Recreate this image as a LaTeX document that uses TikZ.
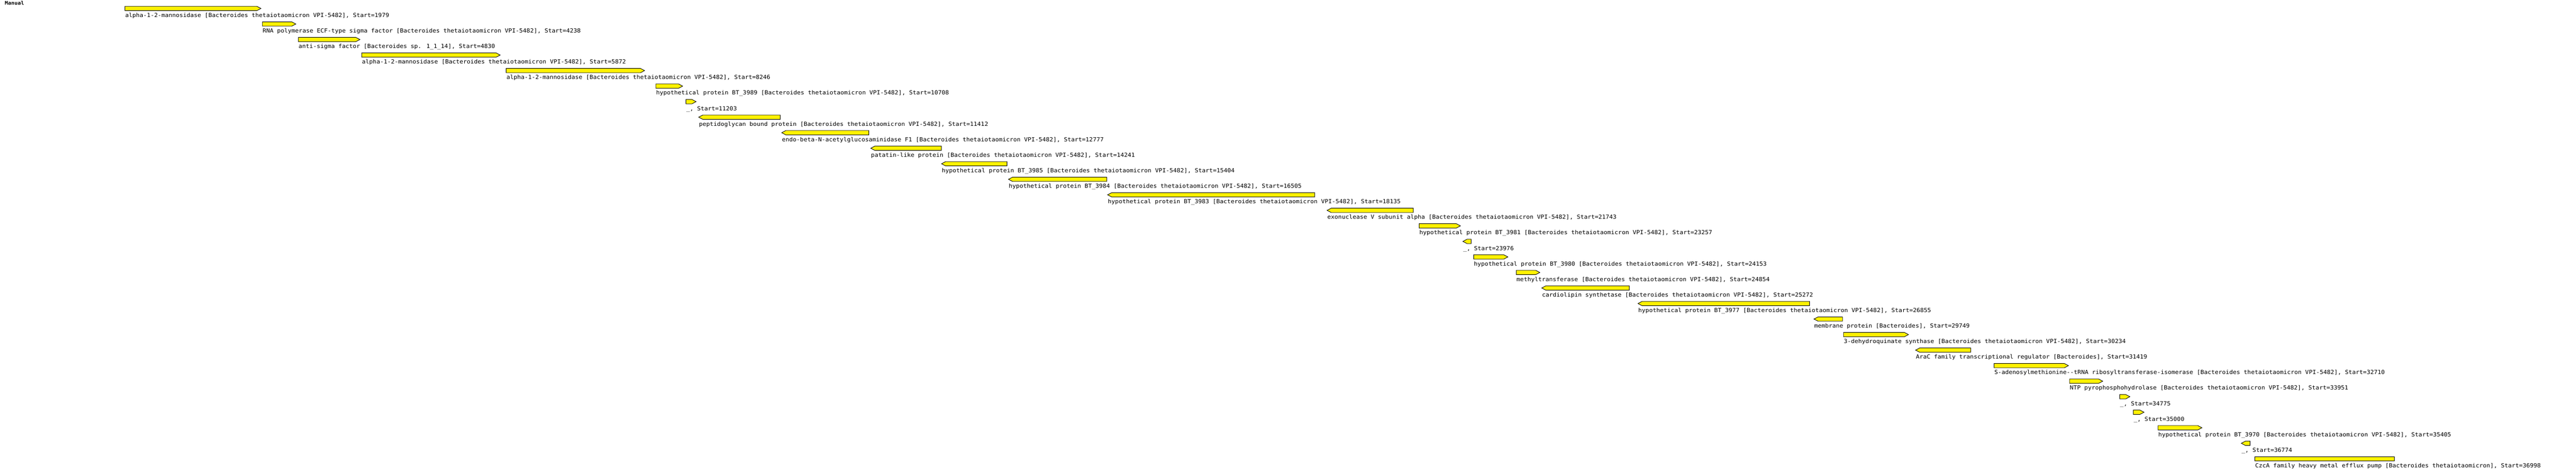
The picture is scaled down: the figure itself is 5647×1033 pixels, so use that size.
\documentclass[tikz,border=0pt]{standalone}
\usepackage{fontspec}
\usepackage{tikz}
\usetikzlibrary{calc}
\newfontfamily\genefont[FakeStretch=1.07]{DejaVu Sans Mono}
\newcommand{\btheta}{[Bacteroides thetaiotaomicron VPI-5482]}

\begin{document}
\begin{tikzpicture}[x=0.1mm,y=-0.1mm,
    every node/.style={inner sep=0, anchor=base west, font=\genefont\fontsize{3.5}{4}\selectfont},
    gene/.style={draw=black, fill=yellow, line width=0.1mm, line join=miter}]
				%canvas and track name placed by hand
				\useasboundingbox (0,0) rectangle (5647,1033);
				\node[font=\genefont\bfseries\fontsize{3.1}{4}\selectfont] (manual) at (10,10.5) {Manual};
				%% one row per gene: row / left / right / strand / label
				%% strand 1 = tip right, -1 = tip left, 0 = plain box
				\foreach \r/\xa/\xb/\d/\t in {
					1/273.9/572.1/1/{alpha-1-2-mannosidase \btheta, Start=1979},
					2/575.1/648.5/1/{RNA polymerase ECF-type sigma factor \btheta, Start=4238},
					3/654/789/1/{anti-sigma factor [Bacteroides sp. 1\_1\_14], Start=4830},
					4/792.9/1096.5/1/{alpha-1-2-mannosidase \btheta, Start=5872},
					5/1109.5/1413/1/{alpha-1-2-mannosidase \btheta, Start=8246},
					6/1437.7/1496.5/1/{hypothetical protein BT\_3989 \btheta, Start=10708},
					7/1503.7/1526/1/{\_, Start=11203},
					8/1531.6/1710.5/-1/{peptidoglycan bound protein \btheta, Start=11412},
					9/1713.6/1904.5/-1/{endo-beta-N-acetylglucosaminidase F1 \btheta, Start=12777},
					10/1908.8/2063.5/-1/{patatin-like protein \btheta, Start=14241},
					11/2063.9/2207.5/-1/{hypothetical protein BT\_3985 \btheta, Start=15404},
					12/2210.7/2426/-1/{hypothetical protein BT\_3984 \btheta, Start=16505},
					13/2428/2882/-1/{hypothetical protein BT\_3983 \btheta, Start=18135},
					14/2909.1/3098/-1/{exonuclease V subunit alpha \btheta, Start=21743},
					15/3110.9/3201.5/1/{hypothetical protein BT\_3981 \btheta, Start=23257},
					16/3206.8/3225/-1/{\_, Start=23976},
					17/3230.4/3305.5/1/{hypothetical protein BT\_3980 \btheta, Start=24153},
					18/3323.9/3375.5/1/{methyltransferase \btheta, Start=24854},
					19/3379.6/3571.7/-1/{cardiolipin synthetase \btheta, Start=25272},
					20/3590.7/3966.8/-1/{hypothetical protein BT\_3977 \btheta, Start=26855},
					21/3976.5/4039/-1/{membrane protein [Bacteroides], Start=29749},
					22/4041.2/4183.7/1/{3-dehydroquinate synthase \btheta, Start=30234},
					23/4199.2/4320/-1/{AraC family transcriptional regulator [Bacteroides], Start=31419},
					24/4371.3/4534.3/1/{S-adenosylmethionine-\kern0pt-tRNA ribosyltransferase-isomerase \btheta, Start=32710},
					25/4536.8/4609.5/1/{NTP pyrophosphohydrolase \btheta, Start=33951},
					26/4646.7/4669/1/{\_, Start=34775},
					27/4676.7/4700/1/{\_, Start=35000},
					28/4730.7/4827/1/{hypothetical protein BT\_3970 \btheta, Start=35405},
					29/4913.2/4932.5/-1/{\_, Start=36774},
					30/4943/5249/0/{CzcA family heavy metal efflux pump [Bacteroides thetaiotaomicron], Start=36998}}{
					\pgfmathsetmacro\rowy{13.8+(\r-1)*34}
					\pgfmathsetmacro\tl{\d<0 ? 9 : 0}
					\pgfmathsetmacro\tr{\d>0 ? 9 : 0}
					\draw[gene] (\xa+\tl,\rowy) -- (\xb-\tr,\rowy) -- (\xb,\rowy+4.75)
						-- (\xb-\tr,\rowy+9.5) -- (\xa+\tl,\rowy+9.5) -- (\xa,\rowy+4.75) -- cycle;
					\node (g\r) at (\xa,\rowy+24) {\t};
					}
				\end{tikzpicture}
\end{document}
